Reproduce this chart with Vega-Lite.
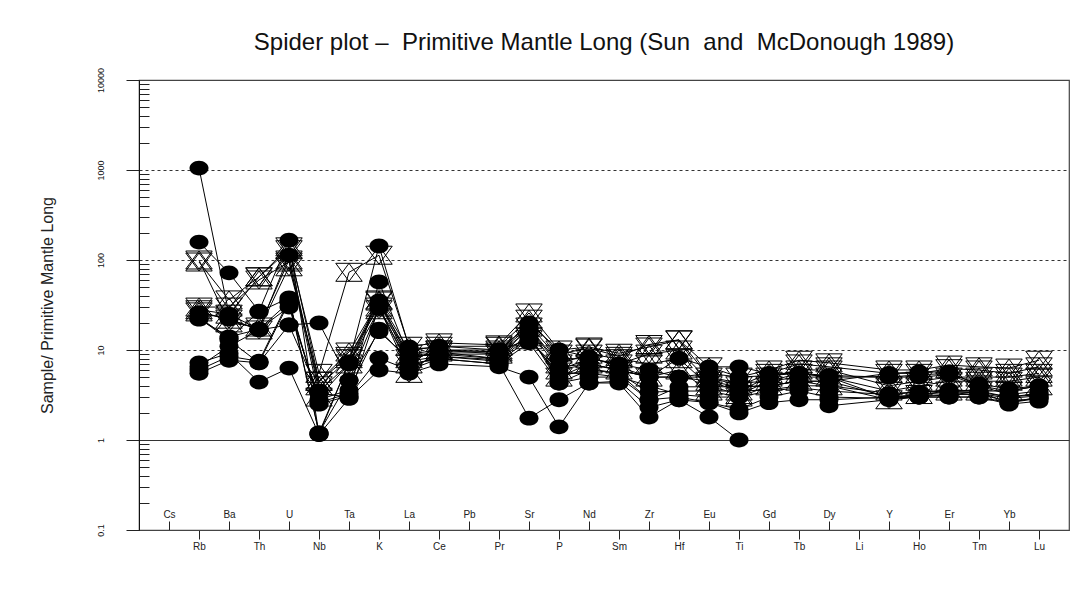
{
  "$schema": "https://vega.github.io/schema/vega-lite/v6.json",
  "width": 930,
  "height": 450,
  "autosize": {"type": "none"},
  "padding": {"left": 139, "top": 80, "right": 20, "bottom": 59},
  "background": "white",
  "title": {
    "text": "Spider plot \u2013\u00a0 Primitive Mantle Long (Sun\u00a0 and\u00a0 McDonough 1989)",
    "font": "Liberation Sans",
    "fontSize": 24,
    "fontWeight": "normal",
    "color": "#111111",
    "anchor": "middle",
    "frame": "group",
    "baseline": "middle",
    "offset": 29,
    "dy": 29
  },
  "config": {
    "view": {"stroke": "#444444", "strokeWidth": 1.2},
    "axis": {"labelFont": "Liberation Sans", "titleFont": "Liberation Sans"}
  },
  "data": {
    "values": [
      {"s": "C1", "t": "c", "Rb": 1050, "Ba": 25, "Th": 17, "U": 34, "Nb": 2.6, "Ta": 3.3, "K": 57, "La": 8.4, "Ce": 9, "Pr": 8, "Sr": 18, "P": 6.5, "Nd": 7, "Sm": 6, "Zr": 5, "Hf": 5, "Eu": 4.5, "Ti": 3.9, "Gd": 4, "Tb": 4.5, "Dy": 4.5, "Y": 5.5, "Ho": 5.7, "Er": 5.7, "Tm": 4, "Yb": 3.2, "Lu": 3.5},
      {"s": "C2", "t": "c", "Rb": 158, "Ba": 72, "Th": 27, "U": 166, "Nb": 1.15, "Ta": 7.3, "K": 143, "La": 10.8, "Ce": 10, "Pr": 9.5, "Sr": 20, "P": 10, "Nd": 8.4, "Sm": 6.5, "Zr": 5, "Hf": 8.1, "Eu": 6.5, "Ti": 6.5, "Gd": 5.5, "Tb": 5.5, "Dy": 5, "Y": 2.9, "Ho": 3, "Er": 3.2, "Tm": 3.4, "Yb": 2.6, "Lu": 3},
      {"s": "C3", "t": "c", "Rb": 22.7, "Ba": 12.9, "Th": 7.2, "U": 19, "Nb": 20, "Ta": 4.6, "K": 29, "La": 7, "Ce": 8, "Pr": 7, "Sr": 12, "P": 4.3, "Nd": 5, "Sm": 5, "Zr": 2.8, "Hf": 3, "Eu": 2.6, "Ti": 2.2, "Gd": 3, "Tb": 3.5, "Dy": 3, "Y": 2.9, "Ho": 3, "Er": 3, "Tm": 3, "Yb": 2.6, "Lu": 2.9},
      {"s": "C4", "t": "c", "Rb": 7.2, "Ba": 9.2, "Th": 4.4, "U": 6.3, "Nb": 1.15, "Ta": 2.9, "K": 6, "La": 5.5, "Ce": 7, "Pr": 6.5, "Sr": 5.0, "P": 1.4, "Nd": 4.3, "Sm": 4.3, "Zr": 1.8, "Hf": 2.8, "Eu": 1.8, "Ti": 1.0, "Dy": 2.4, "Y": 2.8, "Ho": 3, "Er": 3, "Tm": 3, "Yb": 2.5, "Lu": 2.7},
      {"s": "C5", "t": "c", "Rb": 5.5, "Ba": 7.7, "Th": 7.2, "U": 34, "Nb": 2.5, "Ta": 3.1, "K": 8.1, "La": 6, "Ce": 8, "Pr": 7, "Sr": 1.75, "P": 2.8, "Nd": 4.3, "Sm": 4.5, "Zr": 2.3, "Hf": 2.8, "Eu": 2.6, "Ti": 2.0, "Gd": 2.6, "Tb": 2.8, "Dy": 2.8, "Y": 3, "Ho": 3.1, "Er": 3.2, "Tm": 3.2, "Yb": 2.7, "Lu": 2.9},
      {"s": "C6", "t": "c", "Rb": 26, "Ba": 22, "Th": 17, "U": 113, "Nb": 3.5, "Ta": 7, "K": 33, "La": 9, "Ce": 9, "Pr": 9, "Sr": 17, "P": 6, "Nd": 7, "Sm": 6, "Zr": 5, "Hf": 5, "Eu": 5, "Ti": 4.3, "Gd": 4.5, "Tb": 5, "Dy": 5, "Y": 5, "Ho": 5, "Er": 5.3, "Tm": 4, "Yb": 3.5, "Lu": 4},
      {"s": "C7", "t": "c", "Rb": 23, "Ba": 13.5, "Th": 26.5, "U": 38, "Nb": 1.2, "Ta": 4.6, "K": 16, "La": 8, "Ce": 9.5, "Pr": 8, "Sr": 15, "P": 4.3, "Nd": 6, "Sm": 5.5, "Zr": 2.8, "Hf": 3.9, "Eu": 3.9, "Ti": 3.9, "Gd": 4, "Tb": 4.5, "Dy": 4.5, "Y": 3, "Ho": 3.2, "Er": 3.4, "Tm": 3.4, "Yb": 3, "Lu": 3.2},
      {"s": "C8", "t": "c", "Rb": 6.5, "Ba": 11, "Th": 16.7, "U": 19, "Nb": 3.3, "Ta": 3, "K": 30, "La": 6.5, "Ce": 8.5, "Pr": 7.5, "Sr": 13, "P": 5.5, "Nd": 5.5, "Sm": 5, "Zr": 4, "Hf": 3.2, "Eu": 3, "Ti": 3, "Gd": 3.5, "Tb": 3.8, "Dy": 3.5, "Y": 3.2, "Ho": 3.4, "Er": 3.5, "Tm": 3.3, "Yb": 2.9, "Lu": 3.1},
      {"s": "C9", "t": "c", "Rb": 6, "Ba": 8.5, "Th": 7.5, "U": 36, "Nb": 1.2, "Ta": 7.3, "K": 35, "La": 10, "Ce": 11, "Pr": 10, "Sr": 19, "P": 8, "Nd": 8, "Sm": 7, "Zr": 6, "Hf": 5, "Eu": 5.5, "Ti": 5, "Gd": 5.2, "Tb": 5.5, "Dy": 5.2, "Y": 5, "Ho": 5.3, "Er": 5.5, "Tm": 4.2, "Yb": 3.7, "Lu": 4},
      {"s": "C10", "t": "c", "Rb": 22, "Ba": 14, "Th": 17, "U": 30, "Nb": 2.8, "Ta": 3.6, "K": 17, "La": 7.5, "Ce": 8.5, "Pr": 7.8, "Sr": 14, "P": 5, "Nd": 6.2, "Sm": 5.5, "Zr": 3.4, "Hf": 3.5, "Eu": 3.5, "Ti": 3.5, "Gd": 3.6, "Tb": 4, "Dy": 4, "Y": 3.3, "Ho": 3.4, "Er": 3.6, "Tm": 3.5, "Yb": 3, "Lu": 3.3},
      {"s": "S1", "t": "s", "Rb": 95, "Ba": 36, "Th": 65, "U": 130, "Nb": 5.5, "Ta": 73, "K": 113, "La": 11, "Ce": 12, "Pr": 11.4, "Sr": 25.8, "P": 10, "Nd": 10.8, "Sm": 9.2, "Zr": 10.8, "Hf": 12.9, "Eu": 6.5, "Ti": 5, "Gd": 6, "Tb": 7.7, "Dy": 7.2, "Y": 6, "Ho": 6, "Er": 6.8, "Tm": 6.5, "Yb": 6.3, "Lu": 7.7},
      {"s": "S2", "t": "s", "Rb": 28, "Ba": 25, "Th": 65, "U": 140, "Nb": 4.5, "Ta": 9.5, "K": 35, "La": 7, "Ce": 11, "Pr": 11, "Sr": 22, "P": 9, "Nd": 10.5, "Sm": 8.5, "Zr": 11.5, "Hf": 13, "Eu": 5, "Ti": 4, "Gd": 5.5, "Tb": 7, "Dy": 6.5, "Y": 5.5, "Ho": 5.5, "Er": 6.2, "Tm": 6, "Yb": 5.5, "Lu": 6.5},
      {"s": "S3", "t": "s", "Rb": 26.5, "Ba": 22, "Th": 16.7, "U": 84, "Nb": 4.5, "Ta": 8.5, "K": 30, "La": 5.5, "Ce": 10, "Pr": 10, "Sr": 13, "P": 6, "Nd": 8, "Sm": 7, "Zr": 9, "Hf": 10, "Eu": 4.5, "Ti": 3.5, "Gd": 5, "Tb": 6, "Dy": 6, "Y": 4, "Ho": 4.5, "Er": 5, "Tm": 5, "Yb": 5, "Lu": 5.5},
      {"s": "S4", "t": "s", "Rb": 30, "Ba": 30, "Th": 60, "U": 95, "Nb": 4, "Ta": 8, "K": 36, "La": 8, "Ce": 9.5, "Pr": 9.5, "Sr": 18, "P": 7, "Nd": 9, "Sm": 8, "Zr": 7, "Hf": 8, "Eu": 4, "Ti": 3.2, "Gd": 4.5, "Tb": 5.5, "Dy": 5, "Y": 3.5, "Ho": 4, "Er": 4.5, "Tm": 4.5, "Yb": 4.5, "Lu": 5},
      {"s": "S5", "t": "s", "Rb": 100, "Ba": 20, "Th": 18, "U": 100, "Nb": 3, "Ta": 7, "K": 28, "La": 9, "Ce": 10, "Pr": 9, "Sr": 14, "P": 5, "Nd": 7, "Sm": 6, "Zr": 5, "Hf": 6, "Eu": 3.5, "Ti": 3, "Gd": 4, "Tb": 4.5, "Dy": 4, "Y": 2.8, "Ho": 3.2, "Er": 3.5, "Tm": 3.5, "Yb": 3.5, "Lu": 4}
    ]
  },
  "transform": [
    {"fold": ["Rb", "Ba", "Th", "U", "Nb", "Ta", "K", "La", "Ce", "Pr", "Sr", "P", "Nd", "Sm", "Zr", "Hf", "Eu", "Ti", "Gd", "Tb", "Dy", "Y", "Ho", "Er", "Tm", "Yb", "Lu"], "as": ["el", "v"]}
  ],
  "encoding": {
    "x": {
      "field": "el",
      "type": "ordinal",
      "scale": {
        "type": "point",
        "domain": ["Cs", "Rb", "Ba", "Th", "U", "Nb", "Ta", "K", "La", "Ce", "Pb", "Pr", "Sr", "P", "Nd", "Sm", "Zr", "Hf", "Eu", "Ti", "Gd", "Tb", "Dy", "Li", "Y", "Ho", "Er", "Tm", "Yb", "Lu"],
        "padding": 1.15
      },
      "axis": {
        "title": null,
        "grid": false,
        "domainColor": "#444444",
        "tickColor": "#222222",
        "labelColor": "#222222",
        "labelFontSize": 10,
        "labelAngle": 0,
        "labelAlign": "center",
        "labelOverlap": false,
        "labelFlush": false,
        "labelBound": false,
        "tickSize": {"condition": {"test": "indexof(['Cs','Ba','U','Ta','La','Pb','Sr','Nd','Zr','Eu','Gd','Dy','Y','Er','Yb'], datum.value) >= 0", "value": -9}, "value": 9},
        "labelPadding": {"condition": {"test": "indexof(['Cs','Ba','U','Ta','La','Pb','Sr','Nd','Zr','Eu','Gd','Dy','Y','Er','Yb'], datum.value) >= 0", "value": -4}, "value": 2},
        "labelBaseline": {"condition": {"test": "indexof(['Cs','Ba','U','Ta','La','Pb','Sr','Nd','Zr','Eu','Gd','Dy','Y','Er','Yb'], datum.value) >= 0", "value": "alphabetic"}, "value": "top"}
      }
    },
    "y": {
      "field": "v",
      "type": "quantitative",
      "scale": {"type": "log", "domain": [0.1, 10000], "nice": false},
      "axis": {
        "title": "Sample/ Primitive Mantle Long",
        "titleFontSize": 16,
        "titleFontWeight": "normal",
        "titleColor": "#222222",
        "titleAngle": 270,
        "titleX": -92,
        "titleY": 225,
        "titleAlign": "center",
        "titleBaseline": "middle",
        "values": [0.1, 0.2, 0.3, 0.4, 0.5, 0.6, 0.7, 0.8, 0.9, 1, 2, 3, 4, 5, 6, 7, 8, 9, 10, 20, 30, 40, 50, 60, 70, 80, 90, 100, 200, 300, 400, 500, 600, 700, 800, 900, 1000, 2000, 3000, 4000, 5000, 6000, 7000, 8000, 9000, 10000],
        "labelExpr": "indexof([0.1,1,10,100,1000,10000], datum.value) >= 0 ? format(datum.value, '~g') : ''",
        "labelFontSize": 9,
        "labelColor": "#111111",
        "labelAngle": 270,
        "labelAlign": "center",
        "labelBaseline": "bottom",
        "labelPadding": 21,
        "labelOverlap": false,
        "labelFlush": false,
        "labelBound": false,
        "domainColor": "#111111",
        "tickColor": "#222222",
        "tickSize": {"condition": {"test": "indexof([0.1,1,10,100,1000,10000], datum.value) >= 0", "value": 13}, "value": -10},
        "grid": true,
        "gridColor": "#333333",
        "gridWidth": 1,
        "gridOpacity": {"condition": {"test": "datum.value == 1 || datum.value == 10 || datum.value == 100 || datum.value == 1000", "value": 1}, "value": 0},
        "gridDash": {"condition": {"test": "datum.value == 1", "value": []}, "value": [3, 3]}
      }
    }
  },
  "layer": [
    {
      "mark": {"type": "line", "color": "black", "strokeWidth": 1},
      "encoding": {"detail": {"field": "s"}, "order": {"value": null}}
    },
    {
      "transform": [{"filter": "datum.t == 'c'"}],
      "mark": {"type": "point", "shape": "M -1 0 A 1 0.78 0 1 1 1 0 A 1 0.78 0 1 1 -1 0 Z", "size": 361, "filled": true, "color": "black", "opacity": 1}
    },
    {
      "transform": [{"filter": "datum.t == 's'"}],
      "mark": {"type": "point", "shape": "M 0 -0.68 L -1 0.68 L 1 0.68 Z M 0 0.68 L -1 -0.68 L 1 -0.68 Z", "size": 700, "filled": false, "color": "black", "strokeWidth": 1, "opacity": 1}
    }
  ]
}
